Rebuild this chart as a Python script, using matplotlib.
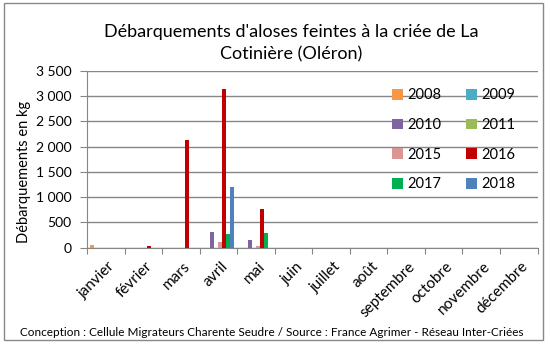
import matplotlib
matplotlib.use('Agg')
import matplotlib.pyplot as plt
import matplotlib.patches as mpatches
import matplotlib.transforms as mtransforms
from matplotlib.ticker import FuncFormatter, FixedLocator
import numpy as np

plt.rcParams['font.family'] = ['Lato', 'DejaVu Sans']

# Données (kg)
mois = ['janvier', 'février', 'mars', 'avril', 'mai', 'juin', 'juillet',
        'août', 'septembre', 'octobre', 'novembre', 'décembre']
annees = ['2008', '2009', '2010', '2011', '2015', '2016', '2017', '2018']
couleurs = ['#F79646', '#4BACC6', '#8064A2', '#9BBB59',
            '#D99694', '#C00000', '#00B050', '#4F81BD']

v2008 = [45, 0, 0, 0, 0, 0, 0, 0, 0, 0, 0, 0]
v2009 = [0, 0, 0, 0, 0, 0, 0, 0, 0, 0, 0, 0]
v2010 = [0, 0, 0, 310, 150, 0, 0, 0, 0, 0, 0, 0]
v2011 = [0, 0, 0, 0, 0, 0, 0, 0, 0, 0, 0, 0]
v2015 = [0, 0, 0, 110, 30, 0, 0, 0, 0, 0, 0, 0]
v2016 = [0, 25, 2125, 3130, 760, 0, 0, 0, 0, 0, 0, 0]
v2017 = [0, 0, 0, 270, 290, 0, 0, 0, 0, 0, 0, 0]
v2018 = [0, 0, 0, 1200, 0, 0, 0, 0, 0, 0, 0, 0]
series = [v2008, v2009, v2010, v2011, v2015, v2016, v2017, v2018]

fig = plt.figure(figsize=(5.5, 3.46), dpi=100)
ax = fig.add_axes([87 / 550, 1 - 247.7 / 346, 450.5 / 550, 177 / 346])

x = np.arange(len(mois))
larg = 0.107
barres = []
for i, (vals, lab, c) in enumerate(zip(series, annees, couleurs)):
    barres.append(ax.bar(x + (i - 3.5) * larg, vals, width=larg, color=c, label=lab, zorder=3))

ax.set_xlim(-0.5, 11.5)
ax.set_ylim(0, 3500)
ax.set_yticks(np.arange(0, 3501, 500))
ax.yaxis.set_major_formatter(FuncFormatter(lambda v, p: '{:,}'.format(int(v)).replace(',', ' ')))
ax.yaxis.grid(True, color='#868686', linewidth=1)
ax.set_axisbelow(True)

# ticks entre les catégories
ax.xaxis.set_major_locator(FixedLocator(np.arange(-0.5, 12, 1)))
ax.set_xticklabels([])
ax.set_xticks(x, mois, minor=True)
ax.tick_params(axis='x', which='minor', length=0, pad=12, labelsize=11)
ax.tick_params(axis='x', which='major', length=4, color='#868686')
ax.tick_params(axis='y', length=5, color='#868686', labelsize=10, pad=6)
decal = mtransforms.ScaledTranslation(5 / 72, 0, fig.dpi_scale_trans)
for t in ax.get_xticklabels(minor=True):
    t.set_rotation(45)
    t.set_ha('right')
    t.set_va('center')
    t.set_rotation_mode('anchor')
    t.set_transform(t.get_transform() + decal)

for s in ['top', 'right']:
    ax.spines[s].set_visible(False)
ax.spines['left'].set_color('#868686')
ax.spines['bottom'].set_color('#868686')

ax.set_ylabel('Débarquements en kg', fontsize=10.5)
ax.yaxis.set_label_coords(-0.124, 0.428)

# légende remplie ligne par ligne comme dans Excel
ordre = [0, 2, 4, 6, 1, 3, 5, 7]
ax.legend([barres[k] for k in ordre], [annees[k] for k in ordre],
          ncol=2, frameon=False, loc='upper left', bbox_to_anchor=(0.648, 0.975),
          fontsize=10.5, handlelength=0.75, handleheight=0.75, handletextpad=0.3,
          columnspacing=1.7, labelspacing=1.08)

fig.text(0.529, 1 - 43 / 346, "Débarquements d'aloses feintes à la criée de La\nCotinière (Oléron)",
         ha='center', va='center', fontsize=13, linespacing=1.45)
fig.text(0.495, 1 - 332 / 346,
         'Conception : Cellule Migrateurs Charente Seudre / Source : France Agrimer - Réseau Inter-Criées',
         ha='center', va='center', fontsize=8.5)

fig.patches.append(mpatches.Rectangle((4 / 550, 1 - 340 / 346), 539 / 550, 337 / 346,
                                      transform=fig.transFigure, fill=False,
                                      edgecolor='#898989', linewidth=1))

fig.savefig('out.png', dpi=100)
